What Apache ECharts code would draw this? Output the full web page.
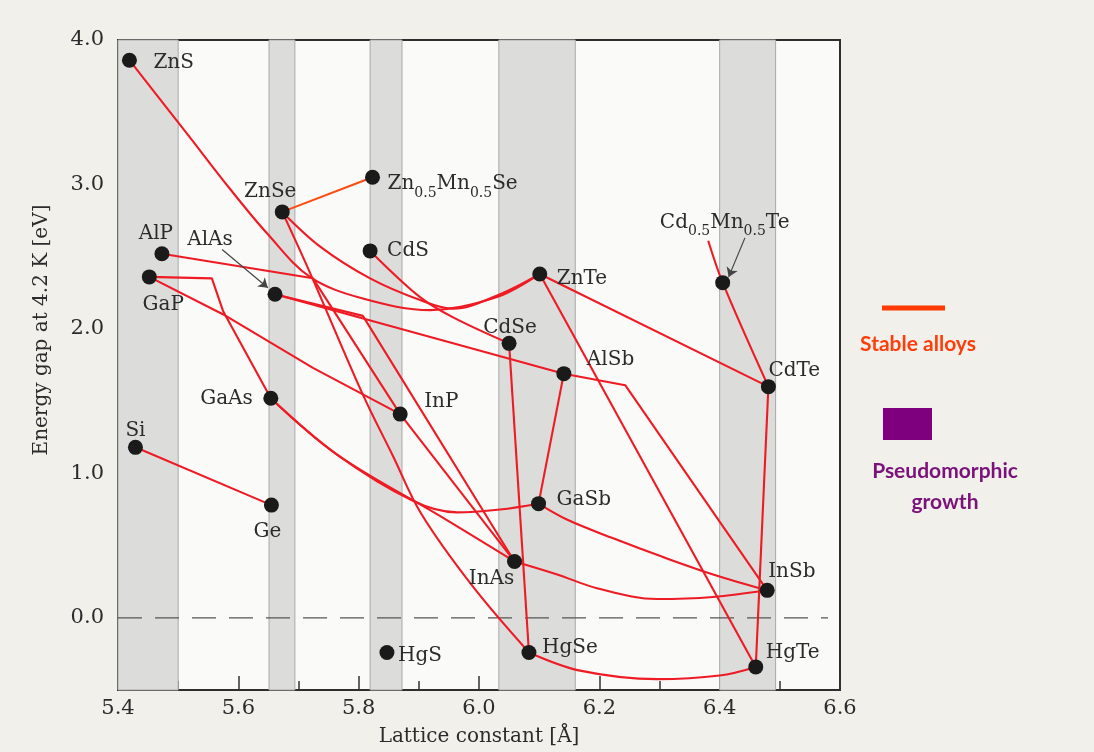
<!DOCTYPE html>
<html>
<head>
<meta charset="utf-8">
<script src="https://cdn.jsdelivr.net/npm/echarts@6/dist/echarts.min.js"></script>
<style>
  html, body { margin: 0; padding: 0; background: #f1f0eb; }
  #chart { width: 1094px; height: 752px; }
</style>
</head>
<body>
<div id="chart"></div>
<script>
// Semiconductor compounds: lattice constant (Å) and energy gap at 4.2 K (eV)
const compounds = ['ZnS', 'ZnSe', 'Zn0.5Mn0.5Se', 'AlP', 'GaP', 'AlAs', 'CdS', 'ZnTe',
  'Cd0.5Mn0.5Te', 'CdSe', 'AlSb', 'CdTe', 'GaAs', 'InP', 'Si', 'Ge', 'GaSb', 'InAs',
  'InSb', 'HgS', 'HgSe', 'HgTe'];
const latticeConstant = [5.419, 5.673, 5.823, 5.473, 5.452, 5.661, 5.819, 6.101,
  6.405, 6.050, 6.141, 6.481, 5.654, 5.869, 5.429, 5.655, 6.099, 6.059,
  6.479, 5.847, 6.083, 6.460];
const energyGap = [3.86, 2.81, 3.05, 2.52, 2.36, 2.24, 2.54, 2.38,
  2.32, 1.90, 1.69, 1.60, 1.52, 1.41, 1.18, 0.78, 0.79, 0.39,
  0.19, -0.24, -0.24, -0.34];

// Alloy curves: named ends are compounds, pairs are [a, Eg] points along the curve
const alloyNames = ['ZnS-ZnTe', 'ZnSe-ZnTe', 'ZnSe-ZnMnSe', 'ZnSe-HgSe', 'CdS-CdSe',
  'AlP-InP', 'GaP-InP', 'GaP-GaAs', 'AlAs-AlSb', 'AlAs-InAs', 'AlSb-InSb', 'AlSb-GaSb',
  'GaSb-InSb', 'InAs-InSb', 'GaAs-InAs', 'GaAs-GaSb', 'Si-Ge', 'InP-InAs', 'CdSe-HgSe',
  'ZnTe-CdTe', 'ZnTe-HgTe', 'CdTe-HgTe', 'HgSe-HgTe', 'CdMnTe-CdTe'];
const alloyPaths = [
  ['ZnS', [5.515, 3.35], [5.586, 2.97], [5.648, 2.66], [5.719, 2.36], [5.807, 2.21], [5.919, 2.13], [6.030, 2.22], 'ZnTe'],
  ['ZnSe', [5.736, 2.57], [5.819, 2.35], [5.902, 2.20], [5.957, 2.14], [6.035, 2.24], 'ZnTe'],
  ['ZnSe', 'Zn0.5Mn0.5Se'],
  ['ZnSe', [5.719, 2.39], [5.807, 1.545], [5.857, 1.12], [5.904, 0.72], [5.990, 0.215], 'HgSe'],
  ['CdS', [5.902, 2.22], [5.957, 2.08], 'CdSe'],
  ['AlP', [5.724, 2.35], 'InP'],
  ['GaP', [5.575, 2.10], [5.724, 1.73], 'InP'],
  ['GaP', [5.556, 2.35], [5.575, 2.12], 'GaAs'],
  ['AlAs', 'AlSb'],
  ['AlAs', [5.807, 2.09], 'InAs'],
  ['AlSb', [6.243, 1.61], 'InSb'],
  ['AlSb', 'GaSb'],
  ['GaSb', [6.146, 0.68], [6.223, 0.55], [6.306, 0.42], [6.389, 0.30], 'InSb'],
  ['InAs', [6.130, 0.30], [6.196, 0.205], [6.296, 0.13], [6.389, 0.144], 'InSb'],
  ['GaAs', [5.764, 1.13], [5.935, 0.705], 'InAs'],
  ['GaAs', [5.764, 1.13], [5.890, 0.81], [5.963, 0.73], [6.035, 0.75], 'GaSb'],
  ['Si', 'Ge'],
  ['InP', 'InAs'],
  ['CdSe', 'HgSe'],
  ['ZnTe', 'CdTe'],
  ['ZnTe', 'HgTe'],
  ['CdTe', 'HgTe'],
  ['HgSe', [6.168, -0.366], [6.296, -0.425], [6.400, -0.40], 'HgTe'],
  [[6.381, 2.61], 'Cd0.5Mn0.5Te', 'CdTe']
];

// Shaded lattice-constant windows (Å)
const bandStart = [5.400, 5.651, 5.819, 6.033, 6.400];
const bandEnd = [5.500, 5.694, 5.872, 6.160, 6.493];

// Zero-gap reference line extent (Å)
const zeroLineFrom = 5.40;
const zeroLineTo = 6.58;

// Pointer arrows from labels to their compounds: [a, Eg] tail and head
const arrowTail = [[5.573, 2.55], [6.442, 2.63]];
const arrowHead = [[5.649, 2.285], [6.415, 2.36]];

// ---- styling ----
const SERIF = '"DejaVu Serif", "Liberation Serif", serif';
const TEXT = '#2b2b2b';
const RED = '#ee1b24';
const ORANGE = '#ff4a12';
const orangeAlloys = new Set(['ZnSe-ZnMnSe']);
const kinkedAlloys = new Set(['AlP-InP', 'GaP-GaAs', 'AlAs-InAs', 'AlSb-InSb', 'GaP-InP']);

// label anchor offsets from the dot centre: [dx, dy, align]
const labelPlace = {
  'ZnS': [24, 2, 'left'], 'ZnSe': [-12, -21, 'center'], 'Zn0.5Mn0.5Se': [15, 6, 'left'],
  'AlP': [-6, -21, 'center'], 'AlAs': [-65, -55, 'center'], 'GaP': [14, 27, 'center'],
  'CdS': [17, -1, 'left'], 'ZnTe': [17, 4, 'left'], 'Cd0.5Mn0.5Te': [2, -61, 'center'],
  'CdSe': [1, -17, 'center'], 'AlSb': [23, -15, 'left'], 'CdTe': [0, -17, 'left'],
  'GaAs': [-18, 0, 'right'], 'InP': [24, -13, 'left'], 'Si': [0, -18, 'center'],
  'Ge': [-4, 26, 'center'], 'GaSb': [18, -5, 'left'], 'InAs': [-23, 16, 'center'],
  'InSb': [1, -20, 'left'], 'HgS': [11, 2, 'left'], 'HgSe': [13, -6, 'left'],
  'HgTe': [10, -15, 'left']
};
const LABEL_DROP = 4;

function point(stop) {
  if (typeof stop === 'string') {
    const i = compounds.indexOf(stop);
    return [latticeConstant[i], energyGap[i]];
  }
  return stop;
}

function richName(name) {
  return name.split(/(0\.5)/).filter(s => s.length)
    .map(s => s === '0.5' ? '{s|0.5}' : '{n|' + s + '}').join('');
}

const DOT = 15;

const series = [];

// background windows and zero line
series.push({
  type: 'line',
  data: [[zeroLineFrom, 0], [zeroLineTo, 0]],
  symbol: 'none',
  silent: true,
  z: 1,
  lineStyle: { color: '#555', width: 1.3, type: [24, 13] },
  markArea: {
    silent: true,
    itemStyle: { color: '#dcdcdb', borderColor: '#a9a9a9', borderWidth: 1 },
    data: bandStart.map((s, i) => [{ xAxis: s }, { xAxis: bandEnd[i] }])
  }
});

alloyNames.forEach((name, k) => {
  series.push({
    type: 'line',
    name: name,
    data: alloyPaths[k].map(point),
    symbol: 'none',
    smooth: kinkedAlloys.has(name) ? false : 0.35,
    silent: true,
    z: 3,
    lineStyle: { color: orangeAlloys.has(name) ? ORANGE : RED, width: 2.1 }
  });
});

series.push({
  type: 'lines',
  coordinateSystem: 'cartesian2d',
  silent: true,
  z: 4,
  symbol: ['none', 'arrow'],
  symbolSize: 9,
  lineStyle: { color: '#444', width: 1.2, opacity: 1 },
  data: arrowTail.map((t, i) => ({ coords: [t, arrowHead[i]] }))
});

series.push({
  type: 'scatter',
  symbol: 'circle',
  symbolSize: DOT,
  silent: true,
  z: 5,
  itemStyle: { color: '#1a1a1a', opacity: 1 },
  data: compounds.map((name, i) => {
    const p = labelPlace[name];
    return {
      name: name,
      value: [latticeConstant[i], energyGap[i]],
      label: {
        show: true,
        position: [DOT / 2 + p[0], DOT / 2 + p[1] + LABEL_DROP],
        align: p[2],
        verticalAlign: 'middle'
      }
    };
  }),
  label: {
    formatter: p => richName(p.name),
    rich: {
      n: { fontFamily: SERIF, fontSize: 20, color: TEXT, lineHeight: 26, verticalAlign: 'top' },
      s: { fontFamily: SERIF, fontSize: 14, color: TEXT, lineHeight: 14, verticalAlign: 'bottom' }
    }
  }
});

const chart = echarts.init(document.getElementById('chart'), null, { renderer: 'canvas' });
chart.setOption({
  animation: false,
  backgroundColor: '#f1f0eb',
  grid: {
    left: 118, right: 254, top: 40, bottom: 55,
    show: true, borderColor: '#2e2e2e', borderWidth: 2, backgroundColor: '#fafaf8'
  },
  xAxis: {
    type: 'value', min: 5.4, max: 6.6, interval: 0.2,
    name: 'Lattice constant [Å]', nameLocation: 'middle', nameGap: 37,
    nameTextStyle: { fontFamily: SERIF, fontSize: 20, color: TEXT },
    axisLine: { show: true, onZero: false, lineStyle: { color: '#2e2e2e', width: 2 } },
    axisTick: { show: true, inside: true, length: 14, lineStyle: { color: '#333', width: 1.5 } },
    minorTick: { show: true, splitNumber: 2, length: 9, lineStyle: { color: '#333', width: 1.5 } },
    splitLine: { show: false },
    axisLabel: { fontFamily: SERIF, fontSize: 21, color: TEXT, margin: 8,
      formatter: v => v.toFixed(1) }
  },
  yAxis: {
    type: 'value', min: -0.5, max: 4, interval: 0.5,
    axisLine: { show: true, onZero: false, lineStyle: { color: '#2e2e2e', width: 2 } },
    axisTick: { show: true, inside: true, length: 12, lineStyle: { color: '#333', width: 1.5 } },
    splitLine: { show: false },
    axisLabel: { fontFamily: SERIF, fontSize: 21, color: TEXT, margin: 14,
      formatter: v => (Math.abs(v - Math.round(v)) < 1e-9 ? v.toFixed(1) : '') }
  },
  graphic: [
    { type: 'text', x: 42, y: 330, rotation: Math.PI / 2,
      style: { text: 'Energy gap at 4.2 K [eV]', font: '20px ' + SERIF, fill: TEXT,
        align: 'center', verticalAlign: 'middle' } },
    { type: 'line', shape: { x1: 882, y1: 308, x2: 945, y2: 308 },
      style: { stroke: '#ff3a05', lineWidth: 5 } },
    { type: 'text', x: 918, y: 344,
      style: { text: 'Stable alloys', font: 'bold 21px Lato, "Open Sans", sans-serif', fill: '#ff3d0a',
        align: 'center', verticalAlign: 'middle' } },
    { type: 'rect', shape: { x: 883, y: 408, width: 49, height: 32 },
      style: { fill: '#7f007f' } },
    { type: 'text', x: 945, y: 471,
      style: { text: 'Pseudomorphic', font: 'bold 21px Lato, "Open Sans", sans-serif', fill: '#7a1279',
        align: 'center', verticalAlign: 'middle' } },
    { type: 'text', x: 945, y: 502,
      style: { text: 'growth', font: 'bold 21px Lato, "Open Sans", sans-serif', fill: '#7a1279',
        align: 'center', verticalAlign: 'middle' } }
  ],
  series: series
});
</script>
</body>
</html>
